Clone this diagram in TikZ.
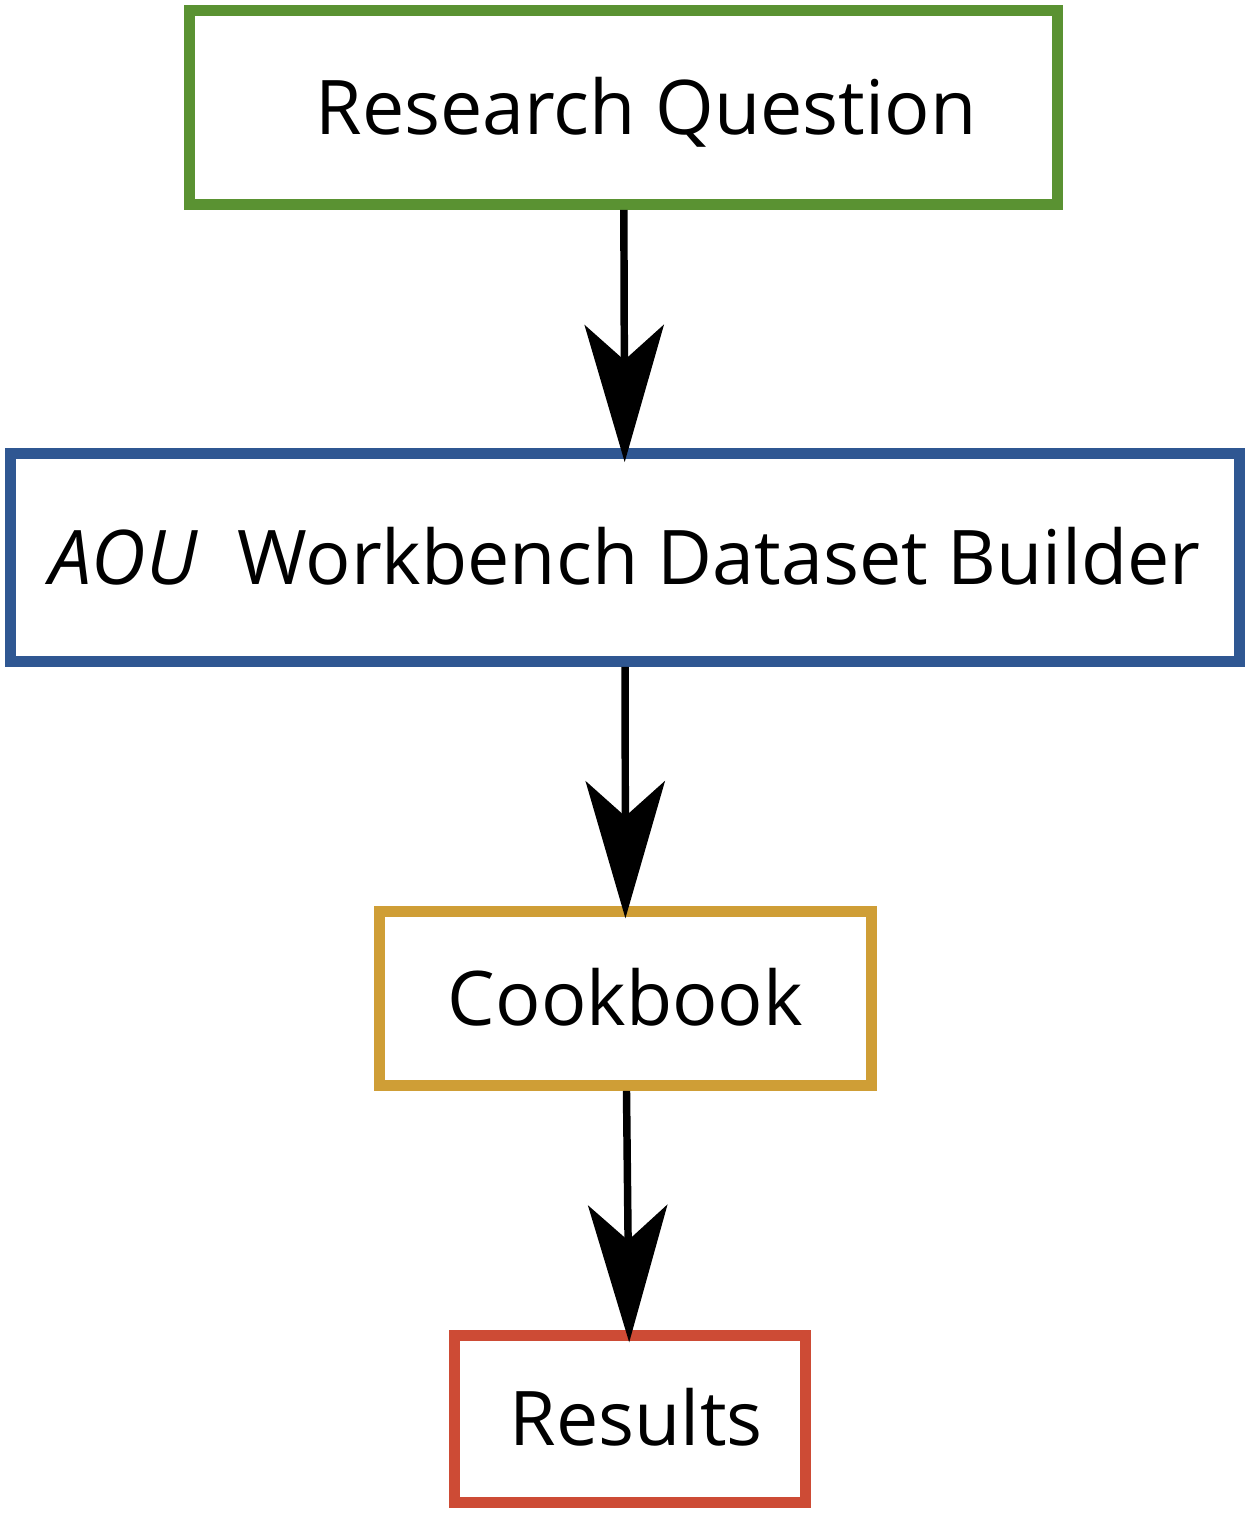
\documentclass[tikz,border=0pt]{standalone}
\usepackage{fontspec}
\setmainfont{Open Sans}
\usetikzlibrary{arrows.meta}
\definecolor{rqgreen}{HTML}{5A9232}
\definecolor{aoublue}{HTML}{2F5792}
\definecolor{cbgold}{HTML}{CF9E36}
\definecolor{resred}{HTML}{CD4B35}
\begin{document}
\begin{tikzpicture}[every node/.style={font=\fontsize{42.9}{51}\selectfont, line width=6.2pt, inner sep=0pt, text height=30.6pt, text depth=0pt}]
                \useasboundingbox (0,0) rectangle (25,-30.3);
                \node[shape=rectangle,draw=rqgreen,minimum width=17.36cm,minimum height=3.88cm] (1) at (12.47,-2.15) {\hspace{0.9cm}Research Question};
                \node[shape=rectangle,draw=aoublue,minimum width=24.58cm,minimum height=4.16cm] (2) at (12.5,-11.15) {\textit{AOU}\ \ Workbench Dataset Builder};
                \node[shape=rectangle,draw=cbgold,minimum width=9.84cm,minimum height=3.48cm] (3) at (12.51,-19.97) {Cookbook};
                \node[shape=rectangle,draw=resred,minimum width=7.02cm,minimum height=3.34cm] (4) at (12.6,-28.38) {\hspace{0.25cm}Results};
                \path [-{Stealth[length=78pt,width=45pt,inset=20pt]}] (1) edge[line width=4.25pt,shorten >=-8pt] node[] {} (2);
                \path [-{Stealth[length=78pt,width=45pt,inset=20pt]}] (2) edge[line width=4.25pt,shorten >=-7pt] node[] {} (3);
                \path [-{Stealth[length=78pt,width=45pt,inset=20pt]}] (3) edge[line width=4.25pt,shorten >=-7pt] node[] {} (4);
            \end{tikzpicture}
\end{document}
